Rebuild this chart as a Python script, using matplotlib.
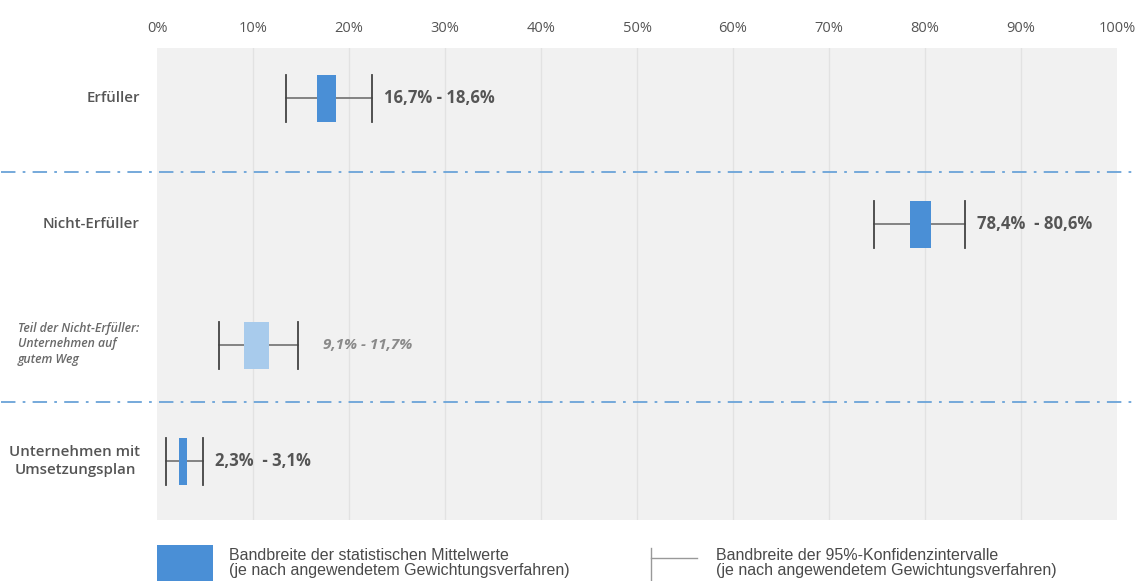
import matplotlib.pyplot as plt
from matplotlib.patches import Rectangle

# ----- data -----
categories = ['Erfüller', 'Nicht-Erfüller',
              'Teil der Nicht-Erfüller:\nUnternehmen auf\ngutem Weg',
              'Unternehmen mit\nUmsetzungsplan']
mean_low = [16.7, 78.4, 9.1, 2.3]
mean_high = [18.6, 80.6, 11.7, 3.1]
ci_low = [13.4, 74.7, 6.5, 0.9]
ci_high = [22.4, 84.2, 14.7, 4.8]
value_labels = ['16,7% - 18,6%', '78,4%  - 80,6%', '9,1% - 11,7%', '2,3%  - 3,1%']
ticks = list(range(0, 101, 10))

# ----- layout (pixel-like units from top of plot area) -----
row_y = [50, 176, 297, 413]
divider_y = [124, 354]
box_h = 47
label_gap = [1.2, 1.2, 2.6, 1.2]

dark_blue = '#4a8fd6'
light_blue = '#a8cbec'
box_colors = [dark_blue, dark_blue, light_blue, dark_blue]
text_gray = '#555555'

fig = plt.figure(figsize=(11.37, 5.81), dpi=100)
ax = fig.add_axes([157 / 1137, 1 - 520 / 581, 960 / 1137, 472 / 581])
ax.set_facecolor('#f1f1f1')
ax.set_xlim(0, 100)
ax.set_ylim(472, 0)

for t in ticks[1:-1]:
    ax.axvline(t, color='#e2e2e2', lw=1, zorder=1)

for s in ax.spines.values():
    s.set_visible(False)
ax.set_yticks([])
ax.xaxis.tick_top()
ax.set_xticks(ticks)
ax.set_xticklabels([f'{t}%' for t in ticks], color=text_gray, fontsize=10.5,
                   family='Open Sans')
ax.tick_params(axis='x', length=0, pad=9)

# boxes and whiskers
for i in range(len(categories)):
    y = row_y[i]
    ax.plot([ci_low[i], ci_high[i]], [y, y], color='#707070', lw=1.2, zorder=2)
    for xv in (ci_low[i], ci_high[i]):
        ax.plot([xv, xv], [y - box_h / 2, y + box_h / 2], color='#444444', lw=1.3, zorder=3)
    ax.add_patch(Rectangle((mean_low[i], y - box_h / 2), mean_high[i] - mean_low[i], box_h,
                           facecolor=box_colors[i], edgecolor='none', zorder=4))
    italic = (i == 2)
    ax.text(ci_high[i] + label_gap[i], y, value_labels[i], va='center', ha='left',
            fontsize=11 if italic else 12, fontweight='bold',
            style='italic' if italic else 'normal',
            color='#8a8a8a' if italic else text_gray, family='Open Sans', zorder=5)

# category labels
ax.text(-1.8, row_y[0], categories[0], ha='right', va='center', fontsize=10.8,
        fontweight='semibold', color=text_gray, family='Open Sans')
ax.text(-1.8, row_y[1], categories[1], ha='right', va='center', fontsize=10.8,
        fontweight='semibold', color=text_gray, family='Open Sans')
ax.text(-14.5, row_y[2] - 1, categories[2], ha='left', va='center', fontsize=8.8,
        style='italic', fontweight='semibold', color='#6a6a6a', family='Open Sans',
        linespacing=1.25)
ax.text(-8.55, row_y[3], categories[3], ha='center', va='center', fontsize=10.8,
        multialignment='center', fontweight='semibold', color=text_gray,
        family='Open Sans', linespacing=1.35)

# dash-dot separators
for y in divider_y:
    ax.plot([-16.3, 104], [y, y], color='#6aa3d8', lw=1.3,
            linestyle=(0, (8, 4, 1.5, 4)), clip_on=False, zorder=5)

# legend at the bottom
fig.patches.append(Rectangle((157 / 1137, 0), 56 / 1137, 36 / 581,
                             transform=fig.transFigure, facecolor=dark_blue,
                             edgecolor='none'))
fig.text(229 / 1137, 1 - 563 / 581,
         'Bandbreite der statistischen Mittelwerte\n(je nach angewendetem Gewichtungsverfahren)',
         ha='left', va='center', fontsize=11.5, color='#4a4a4a',
         family='Liberation Sans', linespacing=0.95)
fig.add_artist(plt.Line2D([651 / 1137, 651 / 1137], [0, 33 / 581], color='#999999', lw=1,
                          transform=fig.transFigure))
fig.add_artist(plt.Line2D([651 / 1137, 697 / 1137], [1 - 558 / 581, 1 - 558 / 581],
                          color='#999999', lw=1, transform=fig.transFigure))
fig.text(716 / 1137, 1 - 563 / 581,
         'Bandbreite der 95%-Konfidenzintervalle\n(je nach angewendetem Gewichtungsverfahren)',
         ha='left', va='center', fontsize=11.5, color='#4a4a4a',
         family='Liberation Sans', linespacing=0.95)

fig.savefig('out.png', dpi=100)
